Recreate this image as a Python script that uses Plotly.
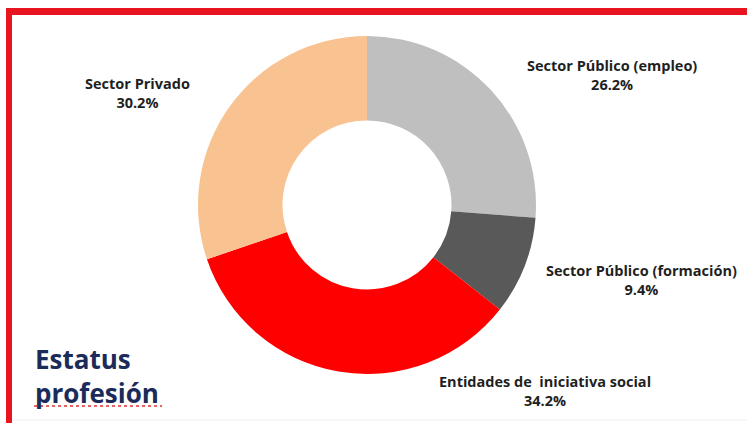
import plotly.graph_objects as go

labels = ["Sector Público (empleo)", "Sector Público (formación)",
          "Entidades de  iniciativa social", "Sector Privado"]
values = [26.2, 9.4, 34.2, 30.2]
colors = ["#BFBFBF", "#595959", "#FF0000", "#F8C291"]

W, H = 747, 423
# label centre positions in pixels (x, y from top)
label_pos = [(612, 75), (641, 280), (545, 391), (137, 93)]

R = 169
fig = go.Figure(go.Pie(
    labels=labels, values=values, hole=0.5, sort=False,
    direction="clockwise", rotation=0,
    marker=dict(colors=colors, line=dict(width=0)),
    textinfo="none", hoverinfo="label+percent",
    domain=dict(x=[(367 - R) / W, (367 + R) / W],
                y=[(H - 205 - R) / H, (H - 205 + R) / H]),
    showlegend=False,
))

annotations = []
for lab, val, (px, py) in zip(labels, values, label_pos):
    annotations.append(dict(
        text=f"<b>{lab}</b><br><b>{val:.1f}%</b>",
        x=px / W, y=(H - py) / H, xref="paper", yref="paper",
        xanchor="center", yanchor="middle", showarrow=False,
        font=dict(family="Open Sans", size=14.5, color="#1f1f1f"),
        align="center",
    ))
annotations.append(dict(
    text="<b>Estatus</b><br><b>profesión</b>",
    x=33 / W, y=(H - 376) / H, xref="paper", yref="paper",
    xanchor="left", yanchor="middle", showarrow=False, align="left",
    font=dict(family="Open Sans", size=26, color="#1B2B5A"),
))

shapes = [
    dict(type="rect", xref="paper", yref="paper", x0=7 / W, x1=1.01,
         y0=(H - 15) / H, y1=(H - 8) / H, fillcolor="#E8141F", line=dict(width=0)),
    dict(type="rect", xref="paper", yref="paper", x0=6 / W, x1=12 / W,
         y0=-0.01, y1=(H - 8) / H, fillcolor="#E8141F", line=dict(width=0)),
    dict(type="line", xref="paper", yref="paper", x0=34 / W, x1=162 / W,
         y0=(H - 406) / H, y1=(H - 406) / H, line=dict(color="#E03030", width=1.5, dash="dot")),
    dict(type="line", xref="paper", yref="paper", x0=12 / W, x1=1,
         y0=(H - 420) / H, y1=(H - 420) / H, line=dict(color="#EEEEEE", width=1)),
]

fig.update_layout(
    width=W, height=H, margin=dict(l=0, r=0, t=0, b=0),
    paper_bgcolor="white", plot_bgcolor="white",
    annotations=annotations, shapes=shapes,
)
fig.write_html("out.html", config={"displayModeBar": False},
               post_script="document.body.style.margin='0';document.body.style.overflow='hidden';")
